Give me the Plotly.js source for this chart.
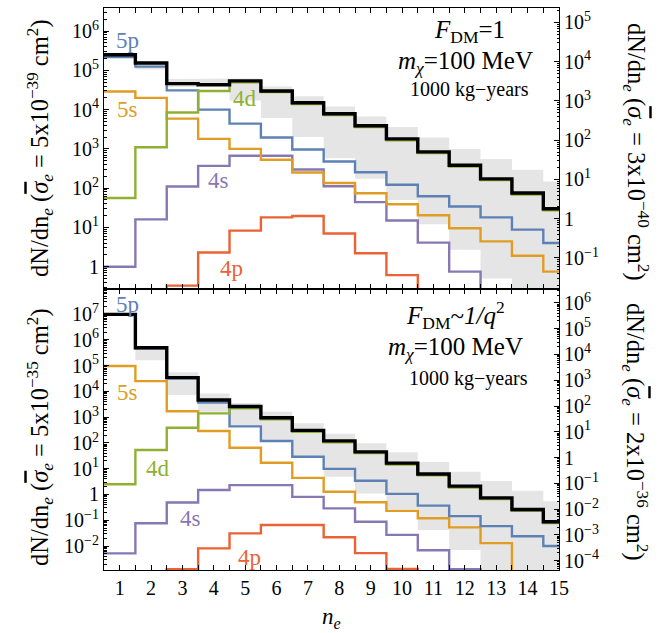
<!DOCTYPE html>
<html><head><meta charset="utf-8">
<script src="https://cdn.plot.ly/plotly-3.0.1.min.js"></script>
<style>html,body{margin:0;padding:0;background:#fff}</style>
</head><body><div id="chart" style="width:660px;height:633px"></div>
<script>
// ---------- data ----------
const ne = [1,2,3,4,5,6,7,8,9,10,11,12,13,14,15];

// Top panel: F_DM = 1 (left-axis units, sigma_e = 5e-39 cm^2)
const topTotal = [2.5e5,1.55e5,4.6e4,4.3e4,5.4e4,3.0e4,1.5e4,7.9e3,3.9e3,1.8e3,840,385,173,75,30];
const top5p    = [2.2e5,1.25e5,3.1e4,1.0e4,4.4e3,1.95e3,970,480,255,122,62,34,18,8.8,4.0];
const top5s    = [2.9e4,2.0e4,5.9e3,1.8e3,1.0e3,530,250,136,74,39,20.5,9.5,4.4,1.9,0.75];
const top4d    = [56,1.1e3,8.5e3,3.0e4,5.0e4,2.8e4,1.4e4,7.3e3,3.6e3,1.65e3,780,355,160,69,27.5];
const top4s    = [1.0,16,110,370,670,670,300,112,44,15,4.1,0.75,0.01,0.01,0.01];
const top4p    = [0.01,0.01,0.33,2.3,8.3,18,19.5,7.0,2.2,0.61,0.01,0.01,0.01,0.01,0.01];
const topBandHi = [2.8e5,1.7e5,6.0e4,6.0e4,6.2e4,3.9e4,2.2e4,1.2e4,6.7e3,3.6e3,1.95e3,1.0e3,550,295,148];
const topBandLo = [2.2e5,1.05e5,3.8e4,4.0e4,1.7e4,6.1e3,2.0e3,580,173,50,12,2.7,0.5,0.01,0.01];

// Bottom panel: F_DM ~ 1/q^2 (left-axis units, sigma_e = 5e-35 cm^2)
const botTotal = [9.7e6,4.9e5,3.4e4,4.6e3,2.6e3,950,307,120,45,16.5,6.2,2.1,0.74,0.26,0.087];
const bot5p    = [9.6e6,4.65e5,3.2e4,3.7e3,440,118,29,9.8,3.4,1.05,0.37,0.145,0.059,0.024,0.010];
const bot5s    = [9.6e4,2.5e4,1.7e3,290,65,17,4.4,1.27,0.5,0.23,0.12,0.053,0.013,1e-6,1e-6];
const bot4d    = [2.5,53,390,1.4e3,2.2e3,830,270,106,40,14.5,5.5,1.85,0.66,0.23,0.077];
const bot4s    = [5.2e-3,0.076,0.49,1.5,2.3,2.3,0.81,0.29,0.088,0.027,0.0069,0.00125,1e-6,1e-6,1e-6];
const bot4p    = [1e-6,1e-6,0.00125,8.1e-3,0.031,0.065,0.066,0.022,5.3e-3,1.3e-3,1e-6,1e-6,1e-6,1e-6,1e-6];
const botBandHi = [1.0e7,5.4e5,5.5e4,8.3e3,3.5e3,1.6e3,575,225,96,43,18,7.6,3.3,1.4,0.55];
const botBandLo = [9.4e6,1.6e5,7.2e3,1.6e3,430,110,29,4.9,1.1,0.27,0.042,0.007,1e-6,1e-6,1e-6];

// tick labels
const topLeftVals  = [1,10,100,1e3,1e4,1e5,1e6];
const topLeftText  = ['1','10<sup>1</sup>','10<sup>2</sup>','10<sup>3</sup>','10<sup>4</sup>','10<sup>5</sup>','10<sup>6</sup>'];
const topRightVals = [0.1,1,10,100,1e3,1e4,1e5];
const topRightText = ['10<sup>−1</sup>','1','10<sup>1</sup>','10<sup>2</sup>','10<sup>3</sup>','10<sup>4</sup>','10<sup>5</sup>'];
const botLeftVals  = [0.01,0.1,1,10,100,1e3,1e4,1e5,1e6,1e7];
const botLeftText  = ['10<sup>−2</sup>','10<sup>−1</sup>','1','10<sup>1</sup>','10<sup>2</sup>','10<sup>3</sup>','10<sup>4</sup>','10<sup>5</sup>','10<sup>6</sup>','10<sup>7</sup>'];
const botRightVals = [1e-4,1e-3,0.01,0.1,1,10,100,1e3,1e4,1e5,1e6];
const botRightText = ['10<sup>−4</sup>','10<sup>−3</sup>','10<sup>−2</sup>','10<sup>−1</sup>','1','10<sup>1</sup>','10<sup>2</sup>','10<sup>3</sup>','10<sup>4</sup>','10<sup>5</sup>','10<sup>6</sup>'];
const xTickText = ['1','2','3','4','5','6','7','8','9','10','11','12','13','14','15'];

// ---------- helpers ----------
function stepX(c){const a=[];c.forEach(n=>{a.push(n-0.5,n+0.5);});return a;}
function stepY(v){const a=[];v.forEach(y=>{a.push(y,y);});return a;}
function minorVals(e0,e1){const a=[];for(let e=e0;e<e1;e++){for(let k=2;k<10;k++)a.push(k*Math.pow(10,e));}return a;}
const halfVals = ne.map(n=>n-0.5);

const C = {total:'#000000', p5:'#5E81B5', s5:'#E19C24', d4:'#8FB032', s4:'#8778B3', p4:'#EB6235', band:'#e5e5e5'};
const FONT = 'Liberation Serif';

function panel(xa, ya, d){
  const xs = stepX(ne);
  const tr = [];
  tr.push({x:xs, y:stepY(d.hi), xaxis:xa, yaxis:ya, mode:'lines', line:{width:0,color:C.band}, hoverinfo:'skip'});
  tr.push({x:xs, y:stepY(d.lo), xaxis:xa, yaxis:ya, mode:'lines', line:{width:0,color:C.band}, fill:'tonexty', fillcolor:C.band, hoverinfo:'skip'});
  [['p4',d.p4],['s4',d.s4],['s5',d.s5],['p5',d.p5],['d4',d.d4]].forEach(([k,v])=>{
    tr.push({x:xs, y:stepY(v), xaxis:xa, yaxis:ya, mode:'lines', line:{width:2.4,color:C[k]}, hoverinfo:'skip'});
  });
  tr.push({x:xs, y:stepY(d.total), xaxis:xa, yaxis:ya, mode:'lines', line:{width:3.4,color:C.total}, hoverinfo:'skip'});
  return tr;
}

const data = [].concat(
  panel('x','y',{total:topTotal,p5:top5p,s5:top5s,d4:top4d,s4:top4s,p4:top4p,hi:topBandHi,lo:topBandLo}),
  panel('x2','y3',{total:botTotal,p5:bot5p,s5:bot5s,d4:bot4d,s4:bot4s,p4:bot4p,hi:botBandHi,lo:botBandLo}),
  [{x:[1],y:[1],xaxis:'x',yaxis:'y2',mode:'markers',marker:{opacity:0},hoverinfo:'skip'},
   {x:[1],y:[1],xaxis:'x2',yaxis:'y4',mode:'markers',marker:{opacity:0},hoverinfo:'skip'}]
);

const L=104, R=559, T=8, B=570, MID=288.5;
const splitFrac = (B-MID)/(B-T);

function xAxis(anchor, labels){
  return {domain:[0,1], anchor:anchor, range:[0.5,15], tickmode:'array', tickvals:ne, ticktext:xTickText,
    showticklabels:labels, ticks:'inside', ticklen:5, tickwidth:1, tickcolor:'#000',
    mirror:'allticks', showline:true, linewidth:1, linecolor:'#000', showgrid:false, zeroline:false,
    tickfont:{family:FONT,size:20,color:'#000'},
    minor:{tickmode:'array', tickvals:halfVals, ticks:'inside', ticklen:3, tickcolor:'#000', showgrid:false}};
}
function yAxis(dom, rng, vals, text, minors, extra){
  return Object.assign({domain:dom, type:'log', range:rng, tickmode:'array', tickvals:vals, ticktext:text,
    ticks:'inside', ticklen:5, tickwidth:1, tickcolor:'#000', showline:true, linewidth:1, linecolor:'#000',
    showgrid:false, zeroline:false, tickfont:{family:FONT,size:20,color:'#000'},
    minor:{tickmode:'array', tickvals:minors, ticks:'inside', ticklen:2.5, tickcolor:'#000', showgrid:false}}, extra);
}

const topR = 1.222, botR = 1.43;
const topRange=[-0.556,6.59], botRange=[-2.93,7.99];

function P(px,py){return {x:(px-L)/(R-L), y:(B-py)/(B-T)};}
function ann(px,py,text,size,color,angle,extra){
  const p=P(px,py);
  return Object.assign({xref:'paper',yref:'paper',x:p.x,y:p.y,text:text,showarrow:false,
    xanchor:'center',yanchor:'middle',textangle:angle||0,
    font:{family:FONT,size:size,color:color||'#000'}}, extra||{});
}
const sig = '<span style="text-decoration:overline"><i>σ</i></span><sub><i>e</i></sub>';
const annotations = [
  ann(40,148,'dN/dn<sub><i>e</i></sub> ('+sig+' = 5x10<sup>−39</sup> cm<sup>2</sup>)',24.5,'#000',-90),
  ann(40,437,'dN/dn<sub><i>e</i></sub> ('+sig+' = 5x10<sup>−35</sup> cm<sup>2</sup>)',24.5,'#000',-90),
  ann(636,152,'dN/dn<sub><i>e</i></sub> ('+sig+' = 3x10<sup>−40</sup> cm<sup>2</sup>)',24.5,'#000',90),
  ann(635,432,'dN/dn<sub><i>e</i></sub> ('+sig+' = 2x10<sup>−36</sup> cm<sup>2</sup>)',24.5,'#000',90),
  ann(331,618,'<i>n</i><sub><i>e</i></sub>',23,'#000',0),
  ann(469,32,'<i>F</i><sub>DM</sub>=1',25),
  ann(465,63,'<i>m</i><sub><i>χ</i></sub>=100 MeV',25),
  ann(469,90,'1000 kg−years',20),
  ann(455,315,'<i>F</i><sub>DM</sub>~<i>1/q</i><sup>2</sup>',25),
  ann(455,348,'<i>m</i><sub><i>χ</i></sub>=100 MeV',25),
  ann(468,378,'1000 kg−years',20),
  ann(127,40,'5p',23,C.p5), ann(127,110,'5s',23,C.s5), ann(245,98,'4d',23,C.d4),
  ann(218,180,'4s',23,C.s4), ann(231,268,'4p',23,C.p4),
  ann(127,304,'5p',23,C.p5), ann(127,392,'5s',23,C.s5), ann(158,468,'4d',23,C.d4),
  ann(190,518,'4s',23,C.s4), ann(249,557,'4p',23,C.p4)
];

const layout = {
  width:660, height:633, margin:{l:L, r:660-R, t:T, b:633-B, pad:0},
  paper_bgcolor:'#fff', plot_bgcolor:'rgba(0,0,0,0)', showlegend:false,
  font:{family:FONT, size:20, color:'#000'},
  xaxis: xAxis('y', false),
  xaxis2: xAxis('y3', true),
  yaxis: yAxis([splitFrac,1], topRange, topLeftVals, topLeftText, minorVals(-1,7), {anchor:'x', side:'left'}),
  yaxis2: yAxis([splitFrac,1], [topRange[0]-topR, topRange[1]-topR], topRightVals, topRightText, minorVals(-2,6), {anchor:'x', side:'right', overlaying:'y'}),
  yaxis3: yAxis([0,splitFrac], botRange, botLeftVals, botLeftText, minorVals(-3,8), {anchor:'x2', side:'left'}),
  yaxis4: yAxis([0,splitFrac], [botRange[0]-botR, botRange[1]-botR], botRightVals, botRightText, minorVals(-5,7), {anchor:'x2', side:'right', overlaying:'y3'}),
  annotations: annotations
};

Plotly.newPlot('chart', data, layout, {displayModeBar:false, staticPlot:true});
</script>
</body></html>
